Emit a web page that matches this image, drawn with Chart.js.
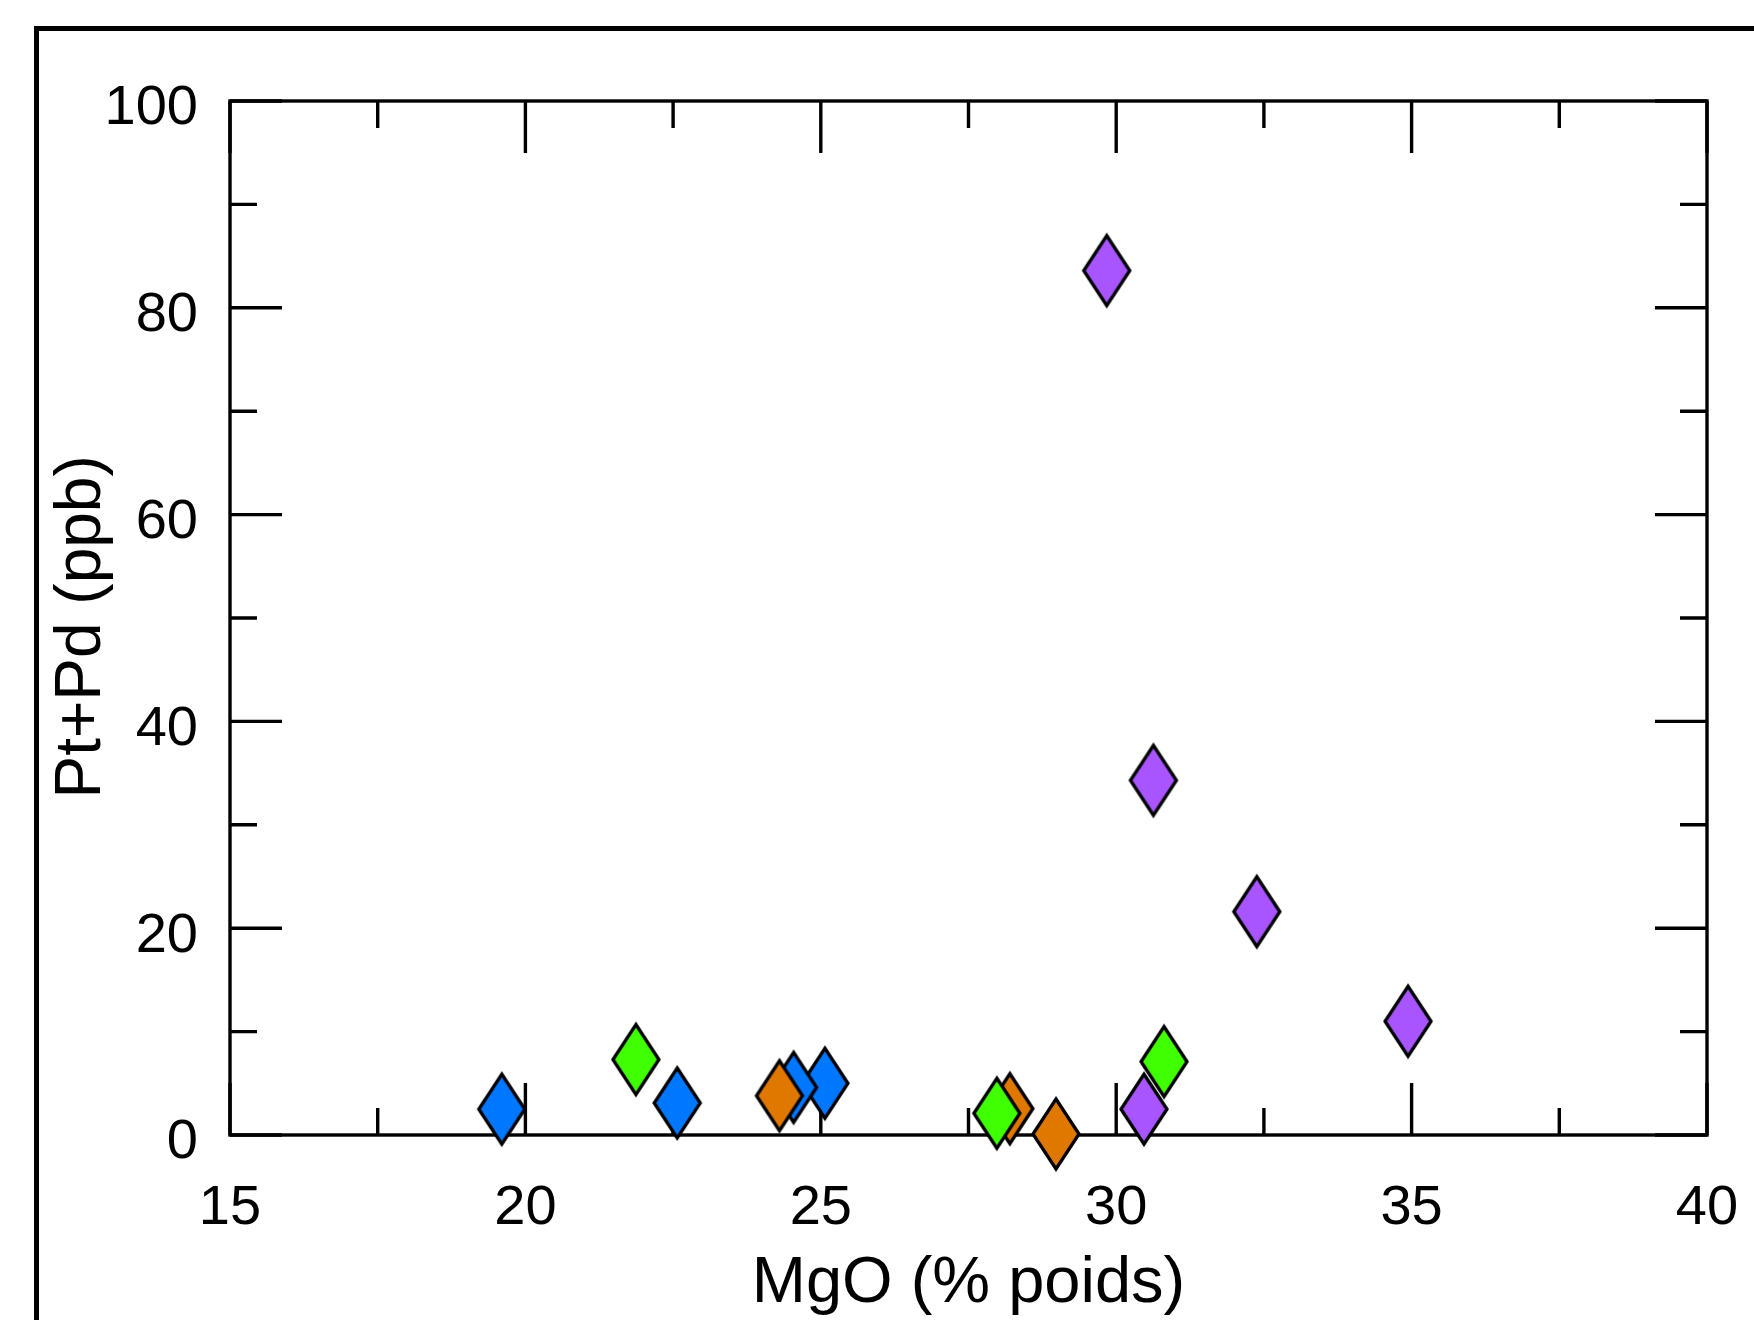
<!DOCTYPE html>
<html>
<head>
<meta charset="utf-8">
<title>Pt+Pd vs MgO</title>
<script src="https://cdn.jsdelivr.net/npm/chart.js@4.4.1/dist/chart.umd.min.js"></script>
<style>
  html, body { margin: 0; padding: 0; background: #fff; }
  canvas { display: block; }
</style>
</head>
<body>
<canvas id="chart" width="1754" height="1320"></canvas>
<script>
// tick labels
const xTickValues = [15, 20, 25, 30, 35, 40];
const yTickValues = [0, 20, 40, 60, 80, 100];

// series (MgO %, Pt+Pd ppb)
const blueMgO = [19.6, 22.57, 25.07, 24.54];
const bluePtPd = [2.5, 3.1, 5.0, 4.6];
const orangeMgO = [24.3, 28.2, 28.98];
const orangePtPd = [3.8, 2.55, 0.1];
const greenMgO = [21.87, 27.98, 30.81];
const greenPtPd = [7.3, 2.1, 7.1];
const purpleMgO = [29.84, 30.63, 32.38, 34.94, 30.47];
const purplePtPd = [83.6, 34.3, 21.6, 11.0, 2.5];

const toPoints = (xs, ys) => xs.map((x, i) => ({ x, y: ys[i] }));

// tall diamond marker
const makeDiamond = (fill) => {
  const c = document.createElement('canvas');
  c.width = 60;
  c.height = 86;
  const g = c.getContext('2d');
  g.beginPath();
  g.moveTo(30, 8);
  g.lineTo(53, 43);
  g.lineTo(30, 78);
  g.lineTo(7, 43);
  g.closePath();
  g.fillStyle = fill;
  g.fill();
  g.lineWidth = 3.3;
  g.lineJoin = 'miter';
  g.strokeStyle = '#000';
  g.stroke();
  return c;
};

const midpoints = (vals) => vals.slice(1).map((v, i) => (v + vals[i]) / 2);

const framePlugin = {
  id: 'frame',
  beforeDraw(chart) {
    const ctx = chart.ctx;
    ctx.save();
    ctx.fillStyle = '#fff';
    ctx.fillRect(0, 0, chart.width, chart.height);
    ctx.fillStyle = '#000';
    ctx.fillRect(34, 26, chart.width, 5);
    ctx.fillRect(34, 26, 5, chart.height);
    ctx.restore();
  },
  beforeDatasetsDraw(chart) {
    const { ctx, chartArea: a, scales: { x, y } } = chart;
    const major = 52, minor = 27;
    ctx.save();
    ctx.strokeStyle = '#000';
    ctx.lineWidth = 3.4;
    ctx.beginPath();
    const xTick = (v, len) => {
      const px = x.getPixelForValue(v);
      ctx.moveTo(px, a.bottom); ctx.lineTo(px, a.bottom - len);
      ctx.moveTo(px, a.top); ctx.lineTo(px, a.top + len);
    };
    const yTick = (v, len) => {
      const py = y.getPixelForValue(v);
      ctx.moveTo(a.left, py); ctx.lineTo(a.left + len, py);
      ctx.moveTo(a.right, py); ctx.lineTo(a.right - len, py);
    };
    xTickValues.forEach(v => xTick(v, major));
    midpoints(xTickValues).forEach(v => xTick(v, minor));
    yTickValues.forEach(v => yTick(v, major));
    midpoints(yTickValues).forEach(v => yTick(v, minor));
    ctx.stroke();
    ctx.strokeRect(a.left, a.top, a.right - a.left, a.bottom - a.top);
    ctx.restore();
  }
};

Chart.defaults.font.family = '"Liberation Sans", Arial, sans-serif';
Chart.defaults.color = '#000';

new Chart(document.getElementById('chart'), {
  type: 'scatter',
  data: {
    datasets: [
      { label: 'bleu', data: toPoints(blueMgO, bluePtPd), pointStyle: makeDiamond('#0077FF'), order: 4 },
      { label: 'orange', data: toPoints(orangeMgO, orangePtPd), pointStyle: makeDiamond('#E07800'), order: 3 },
      { label: 'vert', data: toPoints(greenMgO, greenPtPd), pointStyle: makeDiamond('#40FF00'), order: 2 },
      { label: 'violet', data: toPoints(purpleMgO, purplePtPd), pointStyle: makeDiamond('#A855FF'), order: 1 }
    ]
  },
  options: {
    responsive: false,
    animation: false,
    events: [],
    datasets: { scatter: { clip: false } },
    layout: { padding: { left: 0, right: 47, top: 101, bottom: 0 } },
    plugins: {
      legend: { display: false },
      tooltip: { enabled: false }
    },
    scales: {
      x: {
        type: 'linear',
        min: 15,
        max: 40,
        afterBuildTicks: (scale) => { scale.ticks = xTickValues.map(v => ({ value: v })); },
        afterFit: (scale) => {
          scale.height = 185;
          scale.paddingLeft = 0;
          scale.paddingRight = 0;
        },
        grid: { display: false, drawTicks: false },
        border: { display: false },
        ticks: { font: { size: 56 }, padding: 40, autoSkip: false, maxRotation: 0 },
        title: {
          display: true,
          text: 'MgO (% poids)',
          font: { size: 65 },
          padding: { top: 0, bottom: -3 }
        }
      },
      y: {
        type: 'linear',
        min: 0,
        max: 100,
        afterBuildTicks: (scale) => { scale.ticks = yTickValues.map(v => ({ value: v })); },
        afterFit: (scale) => {
          scale.width = 230;
          scale.paddingTop = 0;
          scale.paddingBottom = 0;
        },
        grid: { display: false, drawTicks: false },
        border: { display: false },
        ticks: { font: { size: 56 }, padding: 32, labelOffset: 8, autoSkip: false },
        title: {
          display: true,
          text: 'Pt+Pd (ppb) ',
          font: { size: 64 },
          padding: { top: 44, bottom: 0 }
        }
      }
    }
  },
  plugins: [framePlugin]
});
</script>
</body>
</html>
